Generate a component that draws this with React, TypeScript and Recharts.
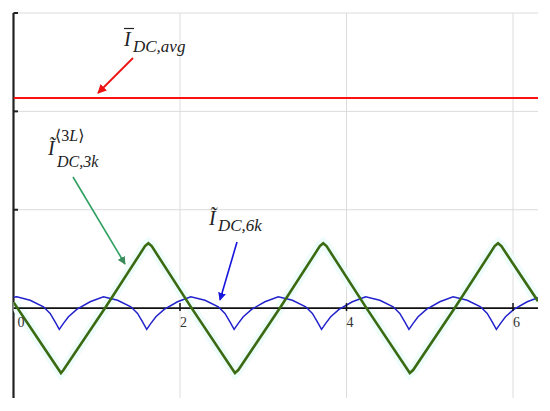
import React from 'react';
import { LineChart, Line, XAxis, YAxis, ReferenceLine, ReferenceDot } from 'recharts';

// x in rad, y in arbitrary current units (grid step = 1)
const xTicks = [0, 2, 4, 6];
const yTicks = [1, 2, 3];
const xGrid = [2, 4, 6];
const yGrid = [1, 2, 3];

const avgX = [0, 6.3];
const avgY = [2.135, 2.135];

const axisX = [0, 6.3];
const axisY = [0, 0];

// 3k component (triangle-like), read at the corners
const greenX = [0, 0.57, 0.6, 1.1, 1.58, 1.62, 1.66, 2.14, 2.66, 2.7, 3.2, 3.68, 3.72, 3.76, 4.24, 4.76, 4.8, 5.3, 5.78, 5.82, 5.86, 6.3];
const greenY = [0.06, -0.66, -0.63, 0.0, 0.63, 0.66, 0.63, 0.0, -0.66, -0.63, 0.0, 0.63, 0.66, 0.63, 0.0, -0.66, -0.63, 0.0, 0.63, 0.66, 0.63, 0.07];

// 6k component (rectifier ripple with cusps)
const blueX = [
  0, 0.04, 0.2, 0.36, 0.44, 0.5, 0.55, 0.6, 0.66, 0.76, 0.92, 1.08,
  1.25, 1.41, 1.49, 1.55, 1.6, 1.65, 1.71, 1.81, 1.97, 2.13,
  2.3, 2.46, 2.54, 2.6, 2.65, 2.7, 2.76, 2.86, 3.02, 3.18,
  3.35, 3.51, 3.59, 3.65, 3.7, 3.75, 3.81, 3.91, 4.07, 4.23,
  4.4, 4.56, 4.64, 4.7, 4.75, 4.8, 4.86, 4.96, 5.12, 5.28,
  5.45, 5.61, 5.69, 5.75, 5.8, 5.85, 5.91, 6.01, 6.17, 6.3,
];
const blueY = [
  0.11, 0.115, 0.08, 0.013, -0.054, -0.14, -0.216, -0.155, -0.088, -0.013, 0.064, 0.115,
  0.08, 0.013, -0.054, -0.14, -0.216, -0.155, -0.088, -0.013, 0.064, 0.115,
  0.08, 0.013, -0.054, -0.14, -0.216, -0.155, -0.088, -0.013, 0.064, 0.115,
  0.08, 0.013, -0.054, -0.14, -0.216, -0.155, -0.088, -0.013, 0.064, 0.115,
  0.08, 0.013, -0.054, -0.14, -0.216, -0.155, -0.088, -0.013, 0.064, 0.115,
  0.08, 0.013, -0.054, -0.14, -0.216, -0.155, -0.088, -0.013, 0.064, 0.105,
];

const toPoints = (xs: number[], ys: number[]) => xs.map((x, i) => ({ x, y: ys[i] }));

const avgData = toPoints(avgX, avgY);
const axisData = toPoints(axisX, axisY);
const greenData = toPoints(greenX, greenY);
const blueData = toPoints(blueX, blueY);

const W = 542;
const H = 403;
const serif = '"Liberation Serif", "DejaVu Serif", serif';

const XTickMark = (t: number) => (props: any) => {
  const { cx, cy } = props;
  return (
    <g>
      {t !== 0 && <line x1={cx} x2={cx} y1={cy - 5} y2={cy + 3} stroke="#111" strokeWidth={1.5} />}
      <text x={cx + (t === 0 ? 4 : 0)} y={cy + 19} fontFamily={serif} fontSize={14} fill="#333">
        {t}
      </text>
    </g>
  );
};

const YTickMark = (props: any) => {
  const { cx, cy } = props;
  return <line x1={cx} x2={cx + 4.5} y1={cy} y2={cy} stroke="#222" strokeWidth={2} />;
};

const Annotations = () => (
  <svg width={W} height={H} style={{ position: 'absolute', left: 0, top: 0, pointerEvents: 'none' }}>
    <defs>
      <marker id="hRed" viewBox="0 0 10 10" refX="9" refY="5" markerWidth="5" markerHeight="5" orient="auto">
        <path d="M0,0 L10,5 L0,10 z" fill="#ee1111" />
      </marker>
      <marker id="hGreen" viewBox="0 0 10 10" refX="9" refY="5" markerWidth="5" markerHeight="5" orient="auto">
        <path d="M0,0 L10,5 L0,10 z" fill="#3a8a5a" />
      </marker>
      <marker id="hBlue" viewBox="0 0 10 10" refX="9" refY="5" markerWidth="5" markerHeight="5" orient="auto">
        <path d="M0,0 L10,5 L0,10 z" fill="#1515dd" />
      </marker>
    </defs>

    {/* I DC,avg */}
    <line x1={125} y1={50} x2={90} y2={85} stroke="#ee1111" strokeWidth={1.8} markerEnd="url(#hRed)" />
    <line x1={116} x2={126} y1={20.5} y2={20.5} stroke="#222" strokeWidth={1.2} />
    <text x={116} y={38} fontFamily={serif} fontStyle="italic" fontSize={20} fill="#222">I</text>
    <text x={125} y={44} fontFamily={serif} fontStyle="italic" fontSize={17} fill="#222">DC,avg</text>

    {/* I DC,3k (3L) */}
    <line x1={65} y1={169} x2={117} y2={256} stroke="#2fa060" strokeWidth={1.6} markerEnd="url(#hGreen)" />
    <text x={40} y={147} fontFamily={serif} fontStyle="italic" fontSize={20} fill="#222">Ĩ</text>
    <text x={47} y={133} fontFamily={serif} fontSize={16} fill="#222">
      ⟨3<tspan fontStyle="italic">L</tspan>⟩
    </text>
    <text x={49} y={159} fontFamily={serif} fontStyle="italic" fontSize={16} fill="#222">DC,3k</text>

    {/* I DC,6k */}
    <line x1={229} y1={234} x2={212} y2={292} stroke="#1515dd" strokeWidth={1.6} markerEnd="url(#hBlue)" />
    <text x={201} y={217} fontFamily={serif} fontStyle="italic" fontSize={20} fill="#222">Ĩ</text>
    <text x={210} y={223} fontFamily={serif} fontStyle="italic" fontSize={17} fill="#222">DC,6k</text>
  </svg>
);

export default function App() {
  return (
    <div style={{ position: 'relative', width: W, height: H, background: '#fff' }}>
      <LineChart width={W} height={H} margin={{ top: 5, right: 12, bottom: 13, left: 5.5 }}>
        <XAxis type="number" dataKey="x" domain={[0, 6.3]} allowDataOverflow hide />
        <YAxis type="number" dataKey="y" domain={[-0.914, 3]} allowDataOverflow hide />
        {xGrid.map((g) => (
          <ReferenceLine key={`gx${g}`} x={g} stroke="#dcdcdc" strokeWidth={1} />
        ))}
        {yGrid.map((g) => (
          <ReferenceLine key={`gy${g}`} y={g} stroke="#dcdcdc" strokeWidth={1} />
        ))}
        <ReferenceLine x={0} stroke="#222" strokeWidth={2.2} />
        <Line data={greenData} dataKey="y" type="linear" stroke="#effcfc" strokeWidth={10} dot={false} isAnimationActive={false} />
        <Line data={axisData} dataKey="y" type="linear" stroke="#111" strokeWidth={1.6} dot={false} isAnimationActive={false} />
        <Line data={avgData} dataKey="y" type="linear" stroke="#ff1010" strokeWidth={2} dot={false} isAnimationActive={false} />
        <Line data={blueData} dataKey="y" type="linear" stroke="#2222cc" strokeWidth={1.5} dot={false} isAnimationActive={false} />
        <Line data={greenData} dataKey="y" type="linear" stroke="#3a6b12" strokeWidth={2.6} dot={false} isAnimationActive={false} />
        {yTicks.map((t) => (
          <ReferenceDot key={`ty${t}`} x={0} y={t} r={0} ifOverflow="visible" shape={YTickMark} />
        ))}
        {xTicks.map((t) => (
          <ReferenceDot key={`tx${t}`} x={t} y={0} r={0} ifOverflow="visible" shape={XTickMark(t)} />
        ))}
      </LineChart>
      <Annotations />
    </div>
  );
}
